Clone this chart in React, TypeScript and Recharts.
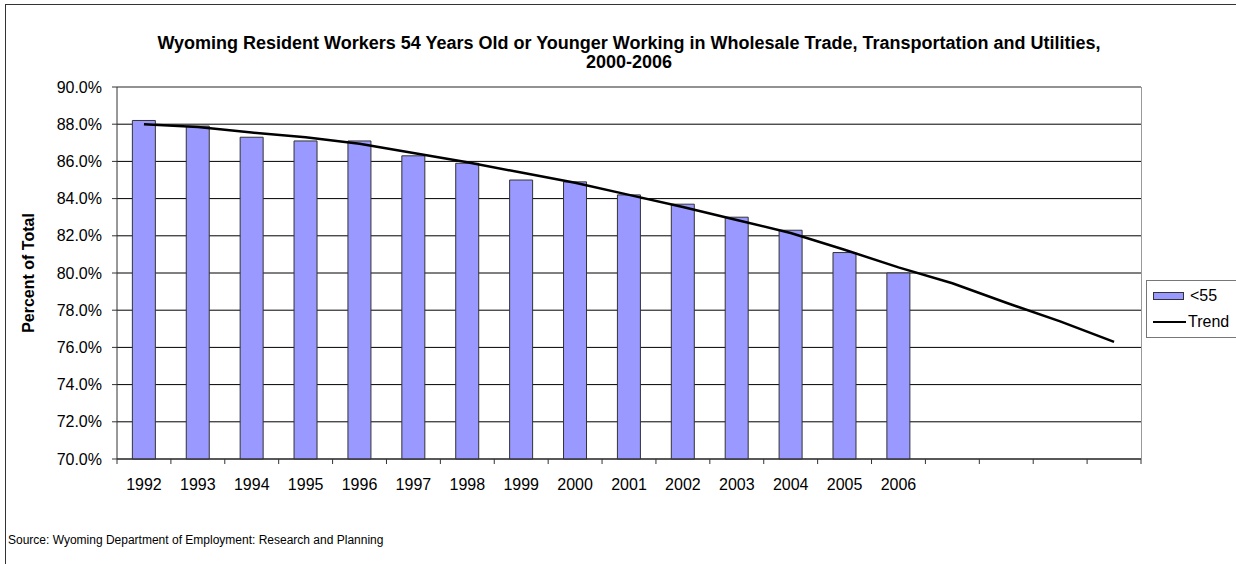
import { ComposedChart, Bar, Line, XAxis, YAxis, CartesianGrid, Legend, ReferenceLine } from 'recharts'

const years = ['1992', '1993', '1994', '1995', '1996', '1997', '1998', '1999', '2000', '2001', '2002', '2003', '2004', '2005', '2006', '2007', '2008', '2009', '2010']
const tickLabels = ['1992', '1993', '1994', '1995', '1996', '1997', '1998', '1999', '2000', '2001', '2002', '2003', '2004', '2005', '2006', '', '', '', '']
const under55 = [88.2, 87.9, 87.3, 87.1, 87.1, 86.3, 85.9, 85.0, 84.9, 84.2, 83.7, 83.0, 82.3, 81.1, 80.0, null, null, null, null]
const trend = [88.0, 87.85, 87.55, 87.3, 86.95, 86.45, 85.95, 85.4, 84.85, 84.2, 83.55, 82.85, 82.15, 81.25, 80.3, 79.45, 78.4, 77.4, 76.3]
const yTicks = [70, 72, 74, 76, 78, 80, 82, 84, 86, 88, 90]

const data = years.map((year, i) => ({ year, under55: under55[i], trend: trend[i] }))

const FONT = 'Arial, "Liberation Sans", sans-serif'

function XTick(props: any) {
  const { x, y, payload, index } = props
  const half = payload && payload.offset ? payload.offset : 26.95
  const axisY = y - 19
  return (
    <g>
      <line x1={x - half} x2={x - half} y1={axisY} y2={axisY + 5} stroke="#333" />
      {index === years.length - 1 && <line x1={x + half} x2={x + half} y1={axisY} y2={axisY + 5} stroke="#333" />}
      <text x={x} y={axisY + 31} textAnchor="middle" fontSize={16} fontFamily={FONT} fill="#000">
        {tickLabels[index]}
      </text>
    </g>
  )
}

function LegendBox() {
  return (
    <div style={{ border: '1px solid #777', background: '#fff', width: 92, height: 58, boxSizing: 'border-box', fontFamily: FONT, fontSize: 16, color: '#000' }}>
      <div style={{ display: 'flex', alignItems: 'center', marginTop: 5, marginLeft: 6, height: 20 }}>
        <span style={{ display: 'inline-block', width: 29, height: 6, background: '#9999FF', border: '1px solid #333' }} />
        <span style={{ marginLeft: 6 }}>&lt;55</span>
      </div>
      <div style={{ display: 'flex', alignItems: 'center', marginTop: 6, marginLeft: 6, height: 20 }}>
        <span style={{ display: 'inline-block', width: 33, height: 2.5, background: '#000' }} />
        <span style={{ marginLeft: 2 }}>Trend</span>
      </div>
    </div>
  )
}

export default function App() {
  return (
    <div style={{ position: 'fixed', left: 0, top: 0, width: 1236, height: 564, overflow: 'hidden', background: '#fff', fontFamily: FONT }}>
      <div style={{ position: 'absolute', left: 5, top: 4, width: 1400, height: 800, borderTop: '1.5px solid #333', borderLeft: '1.5px solid #333' }} />
      <div style={{ position: 'absolute', left: 79, width: 1100, top: 34, textAlign: 'center', fontWeight: 'bold', fontSize: 18, lineHeight: '19px' }}>
        Wyoming Resident Workers 54 Years Old or Younger Working in Wholesale Trade, Transportation and Utilities,
        <br />
        2000-2006
      </div>
      <div style={{ position: 'absolute', left: 8, top: 533, fontSize: 12 }}>
        Source: Wyoming Department of Employment: Research and Planning
      </div>
      <div style={{ position: 'absolute', left: 0, top: 0 }}>
        <ComposedChart width={1236} height={564} data={data} margin={{ top: 87, right: 95, left: 0, bottom: 75 }} barCategoryGap="28.5%">
          <CartesianGrid vertical={false} stroke="#000" strokeWidth={1} />
          <ReferenceLine y={90} stroke="#999" strokeWidth={1.5} />
          <XAxis
            dataKey="year"
            height={30}
            stroke="#333"
            tickLine={false}
            tickSize={5}
            tickMargin={14}
            interval={0}
            tick={<XTick />}
          />
          <YAxis
            width={117}
            domain={[70, 90]}
            ticks={yTicks}
            interval={0}
            stroke="#333"
            tickSize={5}
            tickMargin={10}
            tick={{ fontSize: 16, fontFamily: FONT, fill: '#000' }}
            tickFormatter={(v: number) => v.toFixed(1) + '%'}
            label={{
              value: 'Percent of Total',
              angle: -90,
              position: 'insideLeft',
              offset: 28,
              style: { fontSize: 16, fontWeight: 'bold', fontFamily: FONT, fill: '#000', textAnchor: 'middle' },
            }}
          />
          <Legend layout="vertical" align="center" verticalAlign="middle" content={() => <LegendBox />} wrapperStyle={{ position: 'absolute', left: 1146, top: 280, width: 92, height: 58 }} />
          <Bar dataKey="under55" name="<55" fill="#9999FF" stroke="#333" strokeWidth={1} isAnimationActive={false} />
          <Line dataKey="trend" name="Trend" type="linear" stroke="#000" strokeWidth={2.5} dot={false} activeDot={false} isAnimationActive={false} />
        </ComposedChart>
      </div>
      <div style={{ position: 'absolute', left: 1141, top: 87, width: 0, height: 372, borderLeft: '1.5px solid #999' }} />
    </div>
  )
}
